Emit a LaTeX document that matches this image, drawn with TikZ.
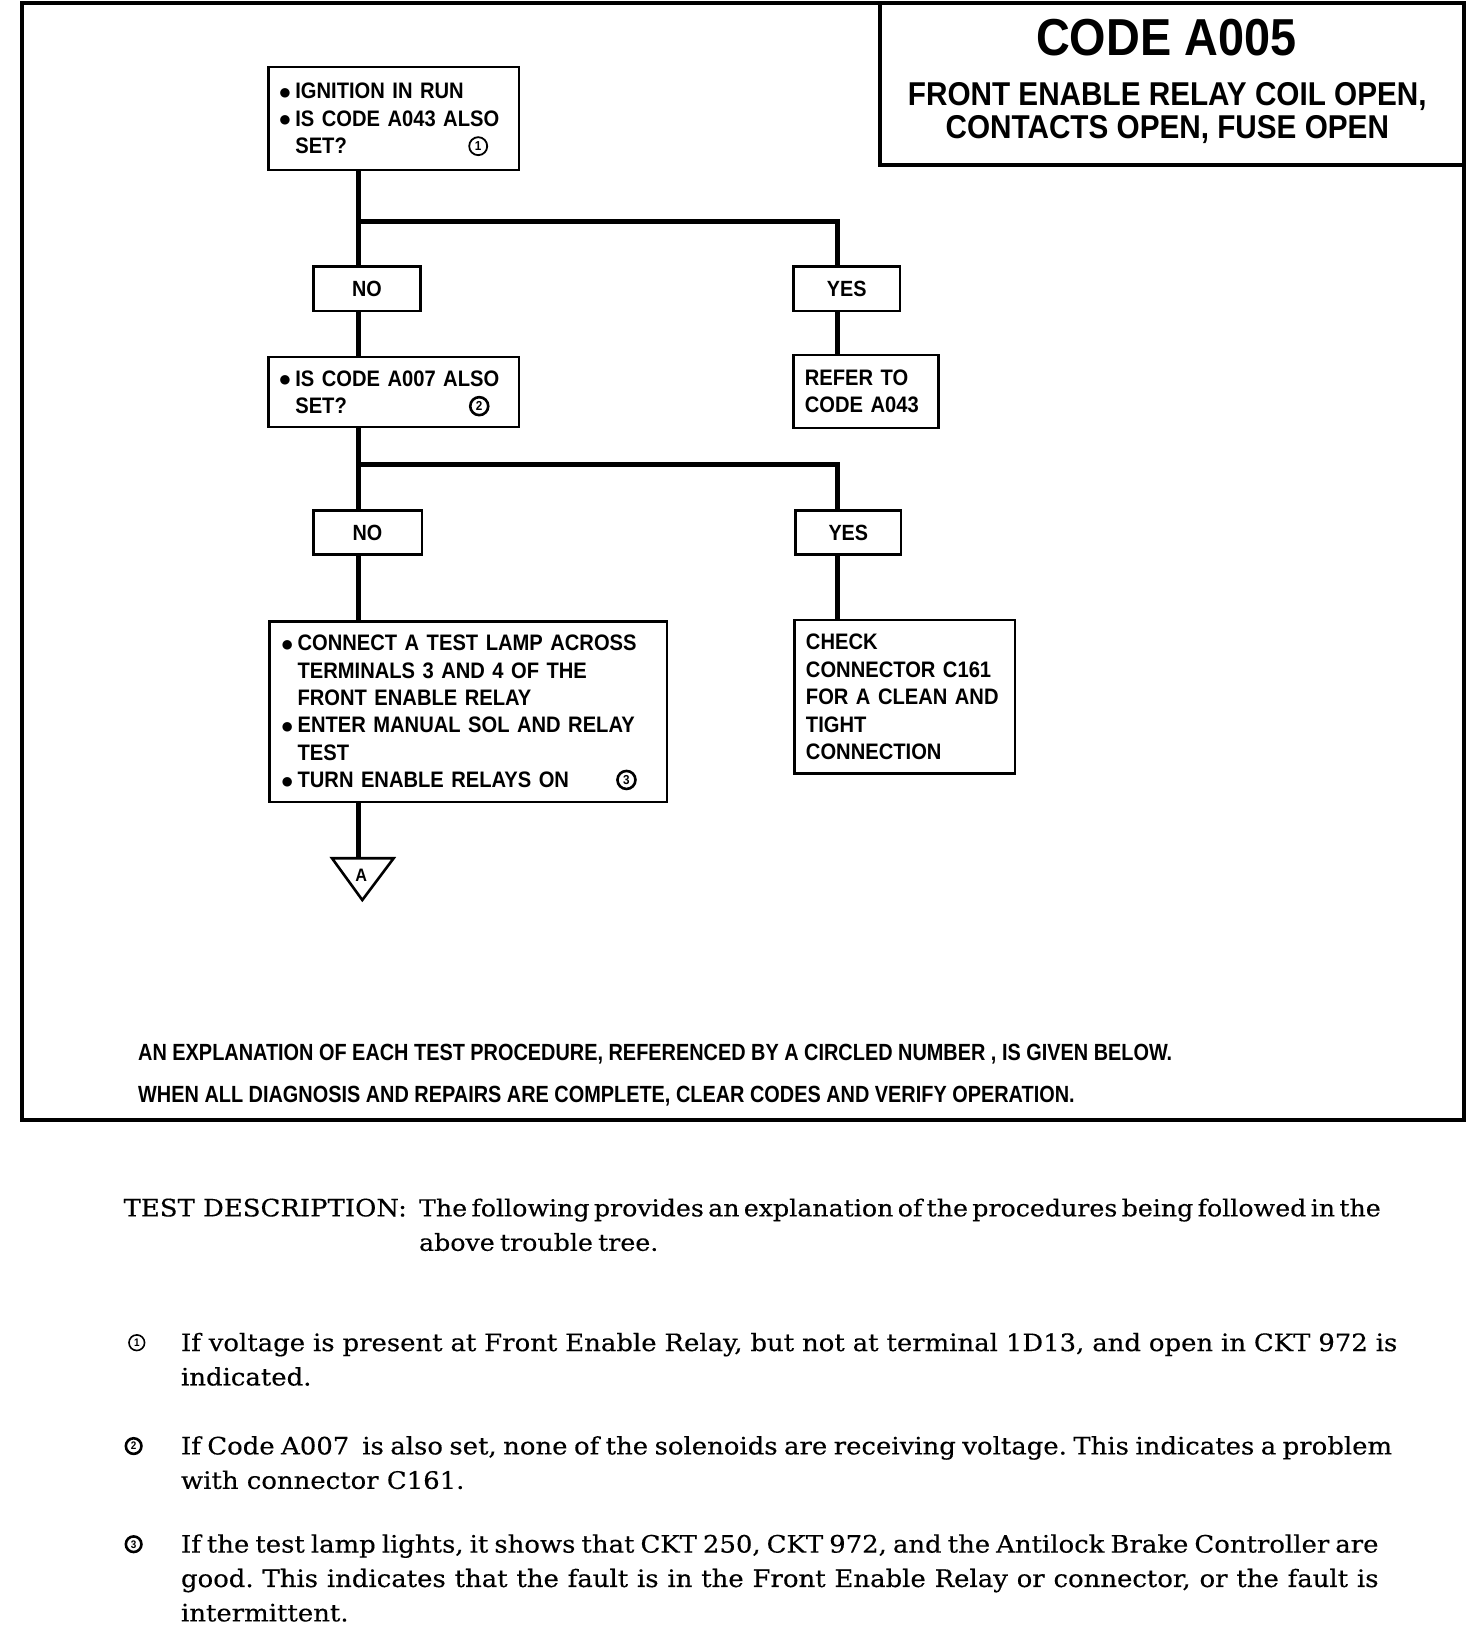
\documentclass[tikz,border=0pt]{standalone}
\usepackage{fontspec}
\setmainfont{DejaVu Serif}[FakeStretch=1.08, FakeBold=0.35]
\newfontfamily\boxfont[FakeStretch=0.9, WordSpace=0.8]{Liberation Sans}
\newfontfamily\titlefont[FakeStretch=0.9]{Liberation Sans}
\newfontfamily\condfont[FakeStretch=0.85]{Liberation Sans}
\newfontfamily\symfont{DejaVu Sans}
\newcommand{\bul}{\makebox[7.8pt][l]{\raisebox{1.3pt}{\fontsize{6.2}{6}\selectfont\symfont ●}}}
\newcommand{\ind}{\hspace*{7.8pt}}
\newcommand{\tightspaces}{\spaceskip=2.6pt plus 1.5pt minus 1pt\relax}
\frenchspacing
\tikzset{
  box/.style={draw, line width=1.3pt, inner ysep=0pt, align=left,
    font=\boxfont\bfseries\fontsize{11.2}{13.7}\selectfont},
  ans/.style={draw, line width=1.3pt, inner sep=0pt,
    font=\boxfont\bfseries\fontsize{11}{13}\selectfont},
  conn/.style={line width=2.6pt},
  cnum/.style={circle, draw, line width=1.3pt, inner sep=0pt, minimum size=9pt,
    font=\titlefont\bfseries\fontsize{6.5}{7}\selectfont},
  ncnum/.style={circle, draw, line width=1.3pt, inner sep=0pt, minimum size=7.8pt,
    font=\titlefont\bfseries\fontsize{5.5}{6}\selectfont},
  note/.style={anchor=base west, inner sep=0pt, align=justify,
    font=\fontsize{12}{17.2}\selectfont},
  bottomline/.style={anchor=base west, inner sep=0pt,
    font=\condfont\bfseries\fontsize{11.7}{13}\selectfont}
}
\begin{document}
\begin{tikzpicture}[x=0.522pt, y=-0.522pt, line join=miter]
\useasboundingbox (0,0) rectangle (1410,1565);
% outer frame
\draw[line width=2.1pt] (21,3) rectangle (1402,1073);
% title box
\node[draw, line width=2.1pt, minimum width=291.8pt, minimum height=80.9pt, inner sep=0pt] (title) at (1122.5,80.5) {};
\node[anchor=base, inner sep=0pt, font=\titlefont\bfseries\fontsize{26}{28}\selectfont] (t1) at (1117,53) {CODE A005};
\node[anchor=base, inner sep=0pt, font=\titlefont\bfseries\fontsize{16.5}{18}\selectfont] (t2) at (1118,101.5) {FRONT ENABLE RELAY COIL OPEN,};
\node[anchor=base, inner sep=0pt, font=\titlefont\bfseries\fontsize{16.5}{18}\selectfont] (t3) at (1118,132.5) {CONTACTS OPEN, FUSE OPEN};

% flowchart boxes
\node[box, minimum width=125.28pt, minimum height=51.68pt, inner xsep=5.7pt, text width=113.88pt] (q1) at (377,113.5)
  {\bul IGNITION IN RUN\\ \bul IS CODE A043 ALSO\\ \ind SET?};
\node[cnum, line width=0.9pt] (c1) at (458,140) {1};

\node[ans, minimum width=53.77pt, minimum height=22.45pt] (no1) at (351.5,276.5) {NO};
\node[ans, minimum width=53.24pt, minimum height=22.45pt] (yes1) at (811,276.5) {YES};

\node[box, minimum width=125.28pt, minimum height=34.97pt, inner xsep=5.7pt, text width=113.88pt] (q2) at (377,375.5)
  {\bul IS CODE A007 ALSO\\ \ind SET?};
\node[cnum] (c2) at (459,389) {2};

\node[box, minimum width=72.56pt, minimum height=36.54pt, inner xsep=5.7pt, text width=61.16pt] (ref) at (829.5,375)
  {REFER~TO\\ CODE~A043};

\node[ans, minimum width=54.29pt, minimum height=21.92pt] (no2) at (352,510) {NO};
\node[ans, minimum width=52.72pt, minimum height=21.92pt] (yes2) at (812.5,510) {YES};

\node[box, minimum width=198.88pt, minimum height=90.31pt, inner xsep=6.3pt, text width=186.28pt] (q3) at (448.5,681.5)
  {\bul CONNECT~A~TEST~LAMP~ACROSS\\ \ind TERMINALS~3~AND~4~OF~THE\\ \ind FRONT~ENABLE~RELAY\\ \bul ENTER~MANUAL~SOL~AND~RELAY\\ \ind TEST\\ \bul TURN~ENABLE~RELAYS~ON};
\node[cnum] (c3) at (600,747) {3};

\node[box, minimum width=110.14pt, minimum height=76.73pt, inner xsep=5.7pt, text width=98.74pt] (chk) at (866.5,667.5)
  {CHECK\\ CONNECTOR~C161\\ FOR~A~CLEAN~AND\\ TIGHT\\ CONNECTION};

% joints
\coordinate (j1) at (343,212);
\coordinate (k1) at (802,212);
\coordinate (j2) at (343,445);
\coordinate (k2) at (802,445);
\coordinate (tt) at (343,822);

% connectors
\draw[conn] (q1.south -| j1) -- (no1.north -| j1);
\draw[conn] (j1) -- (k1) -- (yes1.north -| k1);
\draw[conn] (no1.south -| j1) -- (q2.north -| j1);
\draw[conn] (yes1.south -| k1) -- (ref.north -| k1);
\draw[conn] (q2.south -| j2) -- (no2.north -| j2);
\draw[conn] (j2) -- (k2) -- (yes2.north -| k2);
\draw[conn] (no2.south -| j2) -- (q3.north -| j2);
\draw[conn] (yes2.south -| k2) -- (chk.north -| k2);
\draw[conn] (q3.south -| j2) -- (tt);

% off-page connector triangle
\coordinate (ta) at (318,822);
\coordinate (tb) at (377,822);
\coordinate (tc) at (347,862);
\draw[line width=1.3pt] (ta) -- (tb) -- (tc) -- cycle;
\node[inner sep=0pt, font=\titlefont\bfseries\fontsize{9}{10}\selectfont] (tA) at (346,838) {A};

% frame bottom lines
\node[bottomline] (l1) at (132,1016) {AN EXPLANATION OF EACH TEST PROCEDURE, REFERENCED BY A CIRCLED NUMBER , IS GIVEN BELOW.};
\node[bottomline] (l2) at (132,1056) {WHEN ALL DIAGNOSIS AND REPAIRS ARE COMPLETE, CLEAR CODES AND VERIFY OPERATION.};

% test description
\node[anchor=base west, inner sep=0pt, font=\fontsize{12}{17.2}\selectfont] (td) at (118,1165) {TEST DESCRIPTION:};
\node[note, text width=480.8pt, font=\fontsize{11.7}{17.2}\selectfont] (tdp) at (401,1165)
  {\tightspaces The following provides an explanation of the procedures being followed in the\linebreak above trouble tree.};

\node[ncnum, line width=0.8pt] (n1) at (131,1286) {1};
\node[note, text width=608.1pt] (p1) at (173,1294)
  {If voltage is present at Front Enable Relay, but not at terminal 1D13, and open in CKT 972 is\linebreak indicated.};

\node[ncnum] (n2) at (128,1385) {2};
\node[note, text width=605.5pt] (p2) at (173,1393)
  {If Code A007\ \ is also set, none of the solenoids are receiving voltage. This indicates a problem\linebreak with connector C161.};

\node[ncnum] (n3) at (128,1479) {3};
\node[note, text width=598.7pt] (p3) at (173,1487)
  {If the test lamp lights, it shows that CKT 250, CKT 972, and the Antilock Brake Controller are\linebreak good. This indicates that the fault is in the Front Enable Relay or connector, or the fault is\linebreak intermittent.};
\end{tikzpicture}
\end{document}
